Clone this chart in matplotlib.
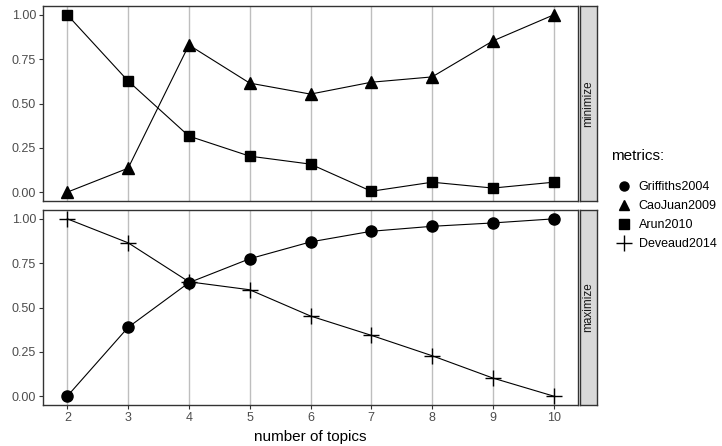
import matplotlib
matplotlib.use("Agg")
import matplotlib.pyplot as plt
from matplotlib.lines import Line2D

plt.rcParams["font.family"] = ["Liberation Sans", "DejaVu Sans"]

# data
topics = [2, 3, 4, 5, 6, 7, 8, 9, 10]

caojuan2009 = [0.00, 0.135, 0.83, 0.615, 0.553, 0.62, 0.65, 0.853, 1.00]
arun2010 = [1.00, 0.627, 0.316, 0.203, 0.158, 0.005, 0.056, 0.023, 0.056]

griffiths2004 = [0.00, 0.388, 0.64, 0.775, 0.87, 0.93, 0.958, 0.977, 1.00]
deveaud2014 = [1.00, 0.865, 0.645, 0.60, 0.452, 0.343, 0.228, 0.102, 0.00]

y_ticks = [0.00, 0.25, 0.50, 0.75, 1.00]
y_labels = ["0.00", "0.25", "0.50", "0.75", "1.00"]

W, H = 722, 446
fig = plt.figure(figsize=(W / 100, H / 100), dpi=100)


def px_rect(x0, y0, x1, y1):
    return [x0 / W, 1 - y1 / H, (x1 - x0) / W, (y1 - y0) / H]


ax_top = fig.add_axes(px_rect(43, 6, 578, 201))
ax_bot = fig.add_axes(px_rect(43, 210, 578, 405))

tick_col = "#4D4D4D"
for ax in (ax_top, ax_bot):
    ax.set_xlim(1.6, 10.4)
    ax.set_ylim(-0.05, 1.05)
    ax.set_xticks(topics)
    ax.set_yticks(y_ticks)
    ax.set_yticklabels(y_labels)
    ax.grid(axis="x", color="#BEBEBE", linewidth=1.0)
    ax.set_axisbelow(True)
    for s in ax.spines.values():
        s.set_color("#333333")
        s.set_linewidth(1.0)
    ax.tick_params(axis="both", colors="#333333", labelcolor=tick_col,
                   labelsize=9, length=3, width=0.8, pad=2)

ax_top.tick_params(axis="x", length=0, labelbottom=False)

ms = 8
ax_top.plot(topics, caojuan2009, color="black", lw=0.8, marker="^", markersize=ms + 1)
ax_top.plot(topics, arun2010, color="black", lw=0.8, marker="s", markersize=ms - 0.5)
ax_bot.plot(topics, griffiths2004, color="black", lw=0.8, marker="o", markersize=ms)
ax_bot.plot(topics, deveaud2014, color="black", lw=0.8, marker="+", markersize=12,
            markeredgewidth=1.0)

fig.text((43 + 578) / 2 / W, 1 - 437 / H, "number of topics", ha="center",
         va="center", fontsize=11, color="black")

# facet strips on the right
for (y0, y1), label in [((6, 201), "minimize"), ((210, 405), "maximize")]:
    sax = fig.add_axes(px_rect(580, y0, 597, y1))
    sax.set_facecolor("#D9D9D9")
    sax.set_xticks([])
    sax.set_yticks([])
    for s in sax.spines.values():
        s.set_color("#333333")
        s.set_linewidth(1.0)
    sax.text(0.5, 0.5, label, rotation=90, ha="center", va="center",
             fontsize=8.5, color="#1A1A1A", transform=sax.transAxes)

# legend (title drawn separately to get the wider gap)
fig.text(611 / W, 1 - 156 / H, "metrics:", ha="left", va="center",
         fontsize=11, color="black")
handles = [
    Line2D([], [], color="black", marker="o", linestyle="", markersize=6.5),
    Line2D([], [], color="black", marker="^", linestyle="", markersize=7.5),
    Line2D([], [], color="black", marker="s", linestyle="", markersize=6.5),
    Line2D([], [], color="black", marker="+", linestyle="", markersize=12,
           markeredgewidth=1.0),
]
names = ["Griffiths2004", "CaoJuan2009", "Arun2010", "Deveaud2014"]
leg = fig.legend(handles, names, loc="upper left",
                 bbox_to_anchor=(611 / W, 1 - 175 / H), frameon=False,
                 fontsize=9, handlelength=1.0,
                 handletextpad=0.7, labelspacing=0.55, borderpad=0)

fig.savefig("out.png", dpi=100)
